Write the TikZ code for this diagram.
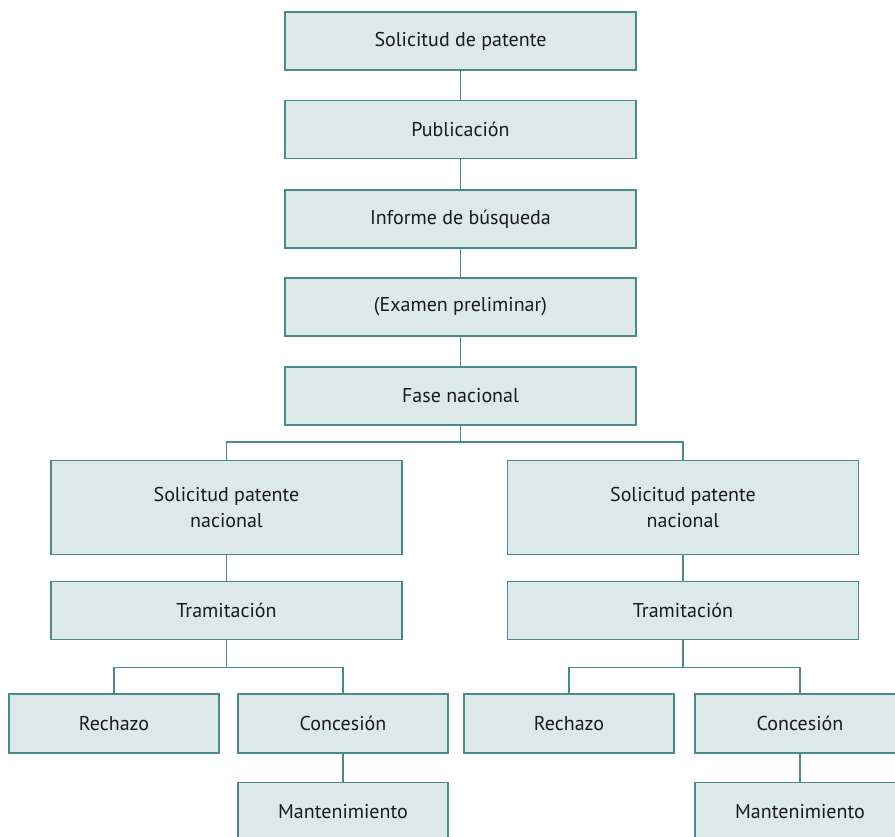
\documentclass[tikz,border=0pt]{standalone}
\usepackage{fontspec}
\setmainfont{PT Sans}
\definecolor{edge}{HTML}{4A8A8A}
\definecolor{boxfill}{HTML}{DDE9E8}
\definecolor{ink}{HTML}{1A1A1A}
\begin{document}
\begin{tikzpicture}[x=1pt,y=-1pt,
  stage/.style={draw=edge, fill=boxfill, line width=1.5pt, inner sep=2pt,
    minimum width=351pt, minimum height=58pt, align=center, text=ink,
    font=\fontsize{20}{26}\selectfont},
  tallstage/.style={stage, minimum height=94pt},
  leaf/.style={stage, minimum width=210pt, minimum height=59pt},
  link/.style={draw=edge, line width=1.5pt}]
\useasboundingbox (0,0) rectangle (895,837);
\clip (0,0) rectangle (895,837);

% main column
\node[stage] (s1) at (460.5,41)    {Solicitud de patente};
\node[stage] (s2) at (460.5,129.5) {Publicación};
\node[stage] (s3) at (460.5,219)   {Informe de búsqueda};
\node[stage] (s4) at (460.5,307)   {(Examen preliminar)};
\node[stage] (s5) at (460.5,396)   {Fase nacional};

% national branches
\node[tallstage] (nL) at (226.5,507.5) {Solicitud patente\\nacional};
\node[tallstage] (nR) at (683,507.5)   {Solicitud patente\\nacional};
\node[stage] (tL) at (226.5,610.5) {Tramitación};
\node[stage] (tR) at (683,610.5)   {Tramitación};

% outcomes
\node[leaf] (rL) at (114,723.5) {Rechazo};
\node[leaf] (cL) at (343,723.5) {Concesión};
\node[leaf] (mL) at (343,812)   {Mantenimiento};
\node[leaf] (rR) at (569,723.5) {Rechazo};
\node[leaf] (cR) at (800,723.5) {Concesión};
\node[leaf] (mR) at (800,812)   {Mantenimiento};

% connectors
\draw[link] (s1) -- (s2);
\draw[link] (s2) -- (s3);
\draw[link] (s3) -- (s4);
\draw[link] (s4) -- (s5);
\draw[link] (s5.south) -- ++(0,16) coordinate (busTop);
\draw[link] (nL.north) |- (busTop) -| (nR.north);
\draw[link] (nL) -- (tL);
\draw[link] (nR) -- (tR);
\draw[link] (tL.south) -- ++(0,27) coordinate (busL);
\draw[link] (rL.north) |- (busL) -| (cL.north);
\draw[link] (tR.south) -- ++(0,27) coordinate (busR);
\draw[link] (rR.north) |- (busR) -| (cR.north);
\draw[link] (cL) -- (mL);
\draw[link] (cR) -- (mR);
\end{tikzpicture}
\end{document}
